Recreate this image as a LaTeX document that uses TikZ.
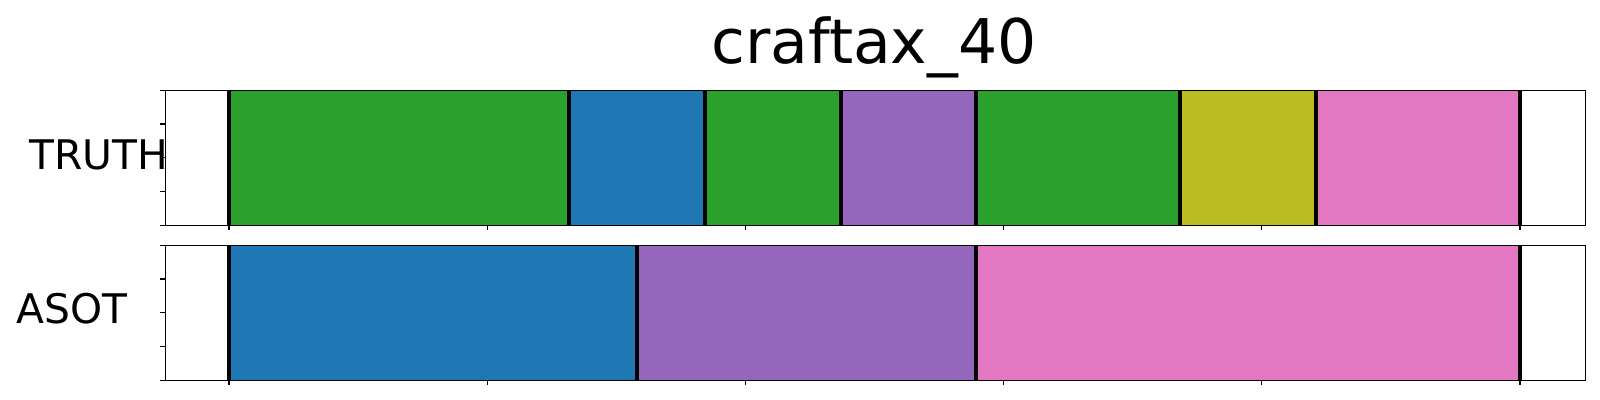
\documentclass[tikz,border=0pt]{standalone}
\usepackage{fontspec}
\setmainfont{DejaVu Sans}

\definecolor{tabgreen}{HTML}{2CA02C}
\definecolor{tabblue}{HTML}{1F77B4}
\definecolor{tabpurple}{HTML}{9467BD}
\definecolor{tabolive}{HTML}{BCBD22}
\definecolor{tabpink}{HTML}{E377C2}

\begin{document}
\begin{tikzpicture}[x=0.5pt, y=-0.5pt]

\useasboundingbox (0,0) rectangle (1600,400);

% Title and row labels
\node [anchor=base, inner sep=0pt] (title) at (874,63.3) {\fontsize{30.8}{36}\selectfont craftax\_40};
\node [anchor=base east, inner sep=0pt] (truth) at (168.5,170) {\fontsize{20.4}{24}\selectfont TRUTH};
\node [anchor=base west, inner sep=0pt] (asot) at (15.8,324) {\fontsize{20.4}{24}\selectfont ASOT};

% TRUTH row
\begin{scope} [shift={(0,90.3)}]

\begin{scope} [shift={(229,0)}, xscale=67.947]
\foreach \a/\b/\c in {0/5/tabgreen, 5/7/tabblue, 7/9/tabgreen, 9/11/tabpurple, 11/14/tabgreen, 14/16/tabolive, 16/19/tabpink}
  \fill [\c] (\a,0) rectangle (\b,135);
\foreach \a in {0,5,7,9,11,14,16,19}
  \draw [line width=2pt, black] (\a,0) -- (\a,135);
\foreach \a in {0,3.8,7.6,11.4,15.2,19}
  \draw [line width=0.55pt] (\a,135) -- (\a,139.9);
\end{scope}

\draw [line width=0.55pt] (165.3,0) rectangle (1585.7,135);
\foreach \y in {0,33.75,67.5,101.25,135}
  \draw [line width=0.55pt] (160.4,\y) -- (165.3,\y);

\end{scope}

% ASOT row
\begin{scope} [shift={(0,245.3)}]

\begin{scope} [shift={(229,0)}, xscale=67.947]
\foreach \a/\b/\c in {0/6/tabblue, 6/11/tabpurple, 11/19/tabpink}
  \fill [\c] (\a,0) rectangle (\b,135);
\foreach \a in {0,6,11,19}
  \draw [line width=2pt, black] (\a,0) -- (\a,135);
\foreach \a in {0,3.8,7.6,11.4,15.2,19}
  \draw [line width=0.55pt] (\a,135) -- (\a,139.9);
\end{scope}

\draw [line width=0.55pt] (165.3,0) rectangle (1585.7,135);
\foreach \y in {0,33.75,67.5,101.25,135}
  \draw [line width=0.55pt] (160.4,\y) -- (165.3,\y);

\end{scope}

\end{tikzpicture}
\end{document}
